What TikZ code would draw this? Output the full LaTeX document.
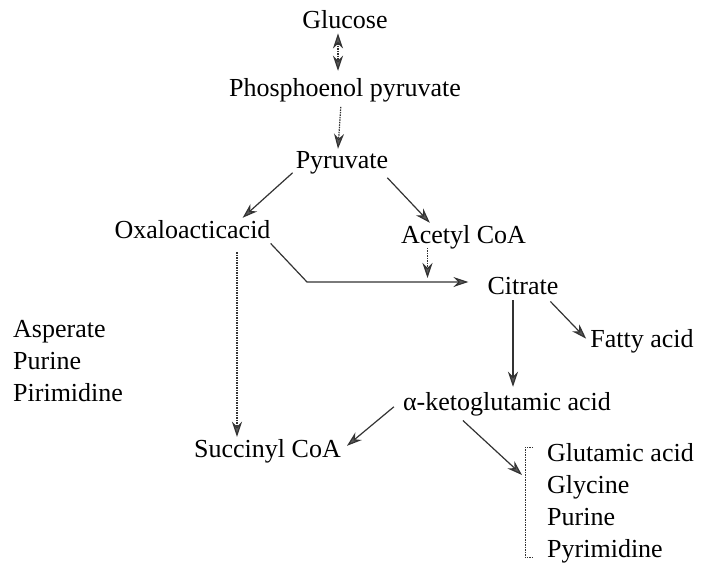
\documentclass[tikz,border=0pt]{standalone}
\usepackage{fontspec}
\setmainfont{Liberation Serif}
\usetikzlibrary{positioning,arrows.meta,calc}

\begin{document}
\begin{tikzpicture}[x=1pt,y=-1pt,font=\fontsize{26}{32}\selectfont]
  \tikzstyle{lbl}=[inner sep=2pt,anchor=base]
  \tikzstyle{arr}=[draw=black!80,line width=1.2pt,-{Stealth[length=15pt,width=10pt,fill=gray!70!black]}]
  \tikzstyle{dotarr}=[arr,dash pattern=on 1.5pt off 1pt]
  \useasboundingbox (0,0) rectangle (702,563);
  \node[lbl] (glc) at (345,28) {Glucose};
  \node[lbl] (pep) at (345,96) {Phosphoenol pyruvate};
  \node[lbl] (pyr) at (342,168) {Pyruvate};
  \node[lbl] (oxa) at (192.5,238) {Oxaloacticacid};
  \node[lbl] (acc) at (463.5,243) {Acetyl CoA};
  \node[lbl] (cit) at (523,294) {Citrate};
  \node[lbl] (fat) at (642,347) {Fatty acid};
  \node[lbl] (akg) at (507,410) {α-ketoglutamic acid};
  \node[lbl] (suc) at (267.5,457) {Succinyl CoA};
  \node[inner sep=0pt,anchor=north west,align=left] (lhs) at (13,320) {Asperate\\Purine\\Pirimidine};
  \node[inner sep=0pt,anchor=north west,align=left] (prod) at (547,443) {Glutamic acid\\Glycine\\Purine\\Pyrimidine};
  \coordinate (bend) at (307,282);
  % top of the chain
  \draw[dotarr,{Stealth[length=15pt,width=10pt,fill=gray!70!black]}-{Stealth[length=15pt,width=10pt,fill=gray!70!black]},shorten <=3pt,shorten >=5pt]
    ([xshift=-7pt]glc.south) -- ([xshift=-7pt]glc.south |- pep.north);
  \draw[dotarr,shorten <=3pt] ([xshift=-4pt]pep.south) -- ([xshift=-4pt]pyr.north);
  \draw[arr] ([xshift=-1pt,yshift=3pt]pyr.south west) -- ([xshift=-30pt]oxa.north east);
  \draw[arr] ([xshift=-3pt,yshift=-2pt]pyr.south east) -- ([xshift=31pt]acc.north west);
  % into citrate
  \draw[arr,shorten >=17pt] ([xshift=-2pt,yshift=-3pt]oxa.south east) -- (bend) -- (bend -| cit.west);
  \draw[dotarr,shorten >=1pt] ([xshift=-36pt,yshift=3pt]acc.south) -- ([xshift=-36pt,yshift=3pt]acc.south |- bend);
  \draw[dotarr,shorten <=12pt] ([xshift=44.5pt]oxa.south) -- ([xshift=44.5pt]oxa.south |- suc.north);
  \draw[arr,shorten <=4pt,shorten >=3pt] ([xshift=-10pt]cit.south) -- ([xshift=-10pt]cit.south |- akg.north);
  \draw[arr,shorten <=7pt,shorten >=3pt] ([xshift=-15pt]cit.south east) -- (fat.west);
  % from ketoglutamate
  \draw[arr] ([xshift=-7pt,yshift=-3pt]akg.west) -- ([xshift=4pt,yshift=5pt]suc.east);
  \draw[arr,shorten <=4pt] ([xshift=-47pt]akg.south) -- ([xshift=-25pt,yshift=-32pt]prod.north west);
  \draw[black!80,line width=1pt,dash pattern=on 1.5pt off 1pt]
    ([xshift=-14pt,yshift=-4pt]prod.north west) -- ([xshift=-22pt,yshift=-4pt]prod.north west)
    -- ([xshift=-22pt,yshift=6pt]prod.south west) -- ([xshift=-14pt,yshift=6pt]prod.south west);
\end{tikzpicture}
\end{document}
